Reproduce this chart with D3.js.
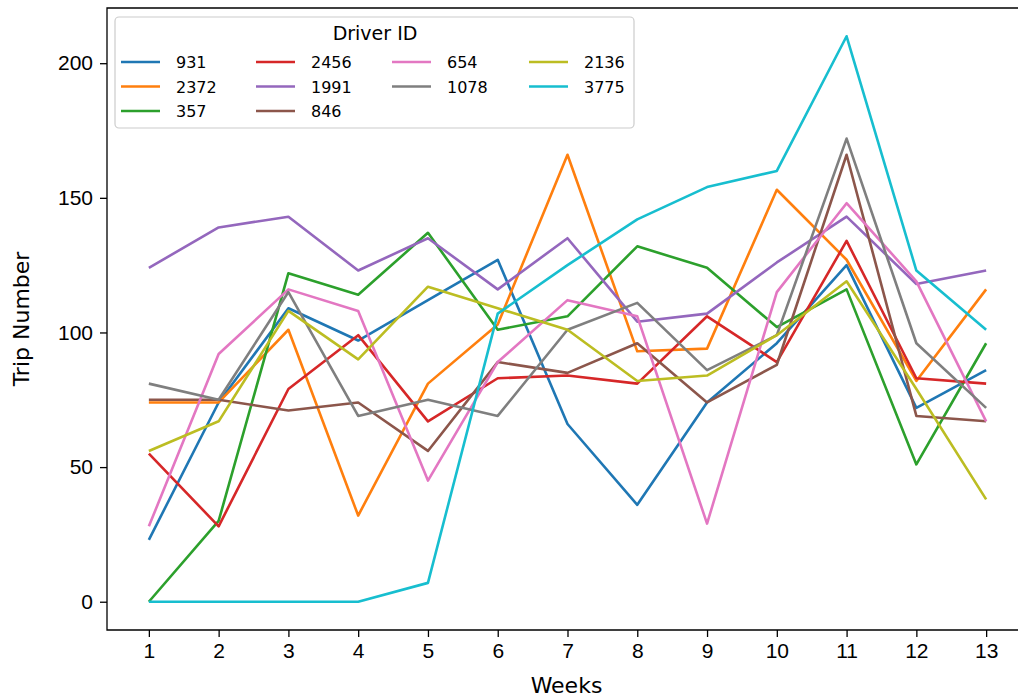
<!DOCTYPE html>
<html lang="en">
<head>
  <meta charset="UTF-8">
  <title>Trip Number by Week</title>
  <script src="https://d3js.org/d3.v7.min.js"></script>
  <style>
  body{ margin:0; background:#fff; }
  svg{ font-family: "DejaVu Sans", sans-serif; }
  .axis path, .axis line{ stroke:#000; stroke-width:1.3; }
  .axis text{ fill:#000; font-size:21px; }
  .series{ fill:none; stroke-width:2.6; stroke-linejoin:round; }
  </style>
</head>
<body>
  <div class="container"></div>
  <script>
  var weeks = [1,2,3,4,5,6,7,8,9,10,11,12,13];
  var drivers = ['931','2372','357','2456','1991','846','654','1078','2136','3775'];
  var colors = ['#1f77b4','#ff7f0e','#2ca02c','#d62728','#9467bd','#8c564b','#e377c2','#7f7f7f','#bcbd22','#17becf'];
  var trips931  = [23,74,109,97,112,127,66,36,74,96,125,72,86];
  var trips2372 = [74,74,101,32,81,103,166,93,94,153,127,82,116];
  var trips357  = [0,30,122,114,137,101,106,132,124,102,116,51,96];
  var trips2456 = [55,28,79,99,67,83,84,81,106,89,134,83,81];
  var trips1991 = [124,139,143,123,135,116,135,104,107,126,143,118,123];
  var trips846  = [75,75,71,74,56,89,85,96,74,88,166,69,67];
  var trips654  = [28,92,116,108,45,89,112,106,29,115,148,119,67];
  var trips1078 = [81,75,115,69,75,69,101,111,86,99,172,96,72];
  var trips2136 = [56,67,108,90,117,109,101,82,84,99,119,79,38];
  var trips3775 = [0,0,0,0,7,107,125,142,154,160,210,123,101];
  var yTicks = [0,50,100,150,200];

  var series = [trips931,trips2372,trips357,trips2456,trips1991,trips846,trips654,trips1078,trips2136,trips3775];

  var w = 1018, h = 698;
  var mLeft = 107, mRight = 1028, mTop = 8, mBottom = 630;

  var xScale = d3.scaleLinear().domain([0.4, 13.6]).range([mLeft, mRight]);
  var yScale = d3.scaleLinear().domain([-10.5, 220.5]).range([mBottom, mTop]);

  var svg = d3.select('.container').append('svg')
      .attr('width', w).attr('height', h);

  // frame (right side falls outside the picture)
  svg.append('path')
     .attr('d', 'M'+mRight+','+mTop+'H'+mLeft+'V'+mBottom+'H'+mRight)
     .attr('fill','none').attr('stroke','#000').attr('stroke-width',1.3);

  var line = d3.line()
      .x(function(d,i){ return xScale(weeks[i]); })
      .y(function(d){ return yScale(d); });

  svg.selectAll('.series')
     .data(series)
     .enter().append('path')
     .attr('class','series')
     .attr('d', line)
     .style('stroke', function(d,i){ return colors[i]; });

  var xAxis = d3.axisBottom(xScale).tickValues(weeks).tickSize(7).tickPadding(6).tickSizeOuter(0);
  var yAxis = d3.axisLeft(yScale).tickValues(yTicks).tickSize(7).tickPadding(7).tickSizeOuter(0);
  var gx = svg.append('g').attr('class','axis').attr('transform','translate(0,'+mBottom+')').call(xAxis);
  var gy = svg.append('g').attr('class','axis').attr('transform','translate('+mLeft+',0)').call(yAxis);
  gx.select('.domain').remove();
  gy.select('.domain').remove();

  svg.append('text').text('Weeks')
     .attr('x', (mLeft+mRight)/2 - 1).attr('y', 693)
     .attr('text-anchor','middle').style('font-size','22px');
  svg.append('text').text('Trip Number')
     .attr('transform','translate(29,'+((mTop+mBottom)/2)+') rotate(-90)')
     .attr('text-anchor','middle').style('font-size','22px');

  // legend
  var lg = svg.append('g');
  lg.append('rect')
    .attr('x',115).attr('y',17).attr('width',519).attr('height',111)
    .attr('rx',4).attr('fill','#fff').attr('fill-opacity',0.8)
    .attr('stroke','#ccc').attr('stroke-width',1.2);
  lg.append('text').text('Driver ID')
    .attr('x',375).attr('y',40).attr('text-anchor','middle')
    .style('font-size','19px');
  var colX = [121, 256, 392, 529];
  var perCol = [3,3,2,2];
  var idx = 0;
  perCol.forEach(function(n, c){
    for (var r = 0; r < n; r++, idx++) {
      var y = 62 + r*24.5;
      lg.append('line')
        .attr('x1', colX[c]).attr('x2', colX[c]+39)
        .attr('y1', y).attr('y2', y)
        .attr('stroke', colors[idx]).attr('stroke-width', 2.6);
      lg.append('text').text(drivers[idx])
        .attr('x', colX[c]+55).attr('y', y+6)
        .style('font-size','16px');
    }
  });
  </script>
</body>
</html>
